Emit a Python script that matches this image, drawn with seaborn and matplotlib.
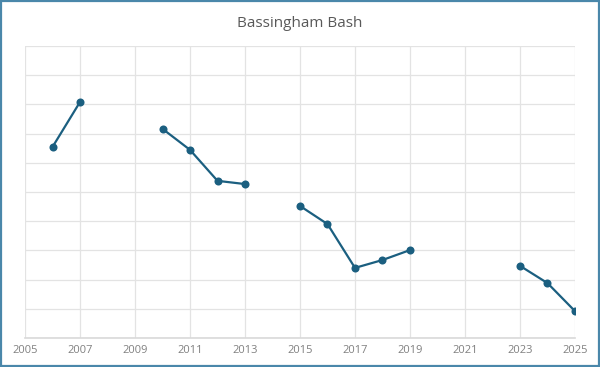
import numpy as np
import pandas as pd
import matplotlib.pyplot as plt
import seaborn as sns
from matplotlib.patches import Rectangle

# values (no y labels shown, 0-10 grid units)
years = [2006, 2007, 2008, 2009, 2010, 2011, 2012, 2013, 2014, 2015,
         2016, 2017, 2018, 2019, 2020, 2021, 2022, 2023, 2024, 2025]
values = [6.54, 8.08, np.nan, np.nan, 7.16, 6.44, 5.38, 5.27, np.nan, 4.52,
          3.90, 2.40, 2.67, 3.01, np.nan, np.nan, np.nan, 2.47, 1.88, 0.92]
xticks = list(range(2005, 2026, 2))

df = pd.DataFrame({'year': years, 'value': values})
# break the line at missing years
df['segment'] = df['value'].isna().cumsum()
df = df.dropna()

sns.set_style('white')
plt.rcParams['font.family'] = ['Open Sans', 'DejaVu Sans']

fig = plt.figure(figsize=(6, 3.67), dpi=100)
ax = fig.add_axes([0.0417, 0.079, 0.9166, 0.796])

line_color = '#1b5f80'
sns.lineplot(data=df, x='year', y='value', units='segment', estimator=None,
             color=line_color, linewidth=1.6, marker='o', markersize=5.8,
             markeredgewidth=0, ax=ax)

ax.set_xlim(2005, 2025)
ax.set_ylim(0, 10)
ax.set_xticks(xticks)
ax.set_yticks(range(0, 11))
ax.set_yticklabels([])
ax.grid(True, color='#e3e3e3', linewidth=0.9)
ax.set_axisbelow(True)
for side in ['top', 'right', 'left']:
    ax.spines[side].set_visible(False)
ax.spines['bottom'].set_color('#d9d9d9')
ax.spines['bottom'].set_linewidth(1.2)
ax.tick_params(axis='both', length=0, labelsize=8, labelcolor='#808080', pad=5)
ax.set_xlabel('')
ax.set_ylabel('')

fig.suptitle('Bassingham Bash', y=0.957, fontsize=11, color='#595959')

# outer chart border
fig.patches.append(Rectangle((0.002, 0.003), 0.996, 0.994, transform=fig.transFigure,
                             fill=False, edgecolor='#4a87aa', linewidth=1.6))

fig.savefig('out.png', dpi=100)
